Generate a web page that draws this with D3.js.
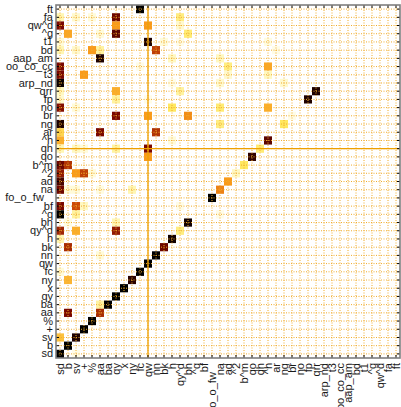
<!DOCTYPE html>
<html>
<head>
<meta charset="utf-8">
<script src="https://cdn.jsdelivr.net/npm/d3@7"></script>
<style>
    body { margin: 0; background: #fff; }
    svg text { font-family: "Liberation Sans", Arial, sans-serif; }
</style>
</head>
<body>
<div id="chart"></div>
<script>
// row categories, top to bottom (columns use the same list reversed)
const rowLabels = ['ft', 'fa', 'qw^d', '^g', 't1', 'bd', 'aap_am', 'oo_co_cc', 't3', 'arp_nd',
    'qrr', 'fp', 'no', 'br', 'ng', 'ar', '^h', 'qh', 'qo', 'b^m', '^2', 'ad', 'na', 'fo_o_fw   ',
    'bf', '^q', 'bh', 'qy^d', 'h', 'bk', 'nn', 'qw', 'fc', 'ny', 'x', 'qy', 'ba', 'aa', '%', '+',
    'sv', 'b', 'sd'];
const colLabels = rowLabels.slice().reverse();

// highlighted row / column (solid lines)
const markRow = 'qh';
const markCol = 'qw';

// [row, column, value 0..1]  -- cells not listed are 0
const cells = [
    ['ft', 'fc', 1.0],
    ['fa', 'sd', 0.12], ['fa', 'sv', 0.08], ['fa', '%', 0.06], ['fa', 'qy', 0.82], ['fa', 'qy^d', 0.2],
    ['qw^d', 'sd', 0.8], ['qw^d', 'qy', 0.45], ['qw^d', 'qw', 0.45], ['qw^d', 'qy^d', 0.08],
    ['^g', 'b', 0.42], ['^g', 'aa', 0.06], ['^g', 'qy', 0.85], ['^g', 'bh', 0.22],
    ['t1', 'sd', 0.06], ['t1', 'qw', 0.95], ['t1', 'bk', 0.06], ['t1', 'qy^d', 0.04], ['t1', '^h', 0.05],
    ['bd', 'sd', 0.12], ['bd', 'sv', 0.08], ['bd', '%', 0.45], ['bd', 'aa', 0.15], ['bd', 'nn', 0.65], ['bd', 'ar', 0.04],
    ['aap_am', 'aa', 0.95], ['aap_am', 'h', 0.1], ['aap_am', 'na', 0.1],
    ['oo_co_cc', 'sd', 0.8], ['oo_co_cc', 'fc', 0.04], ['oo_co_cc', 'ad', 0.2], ['oo_co_cc', '^h', 0.42],
    ['t3', 'sd', 0.8], ['t3', '+', 0.45], ['t3', 'ad', 0.08], ['t3', '^h', 0.1],
    ['arp_nd', 'sd', 0.98], ['arp_nd', 'h', 0.04], ['arp_nd', 'na', 0.08], ['arp_nd', 'ng', 0.08],
    ['qrr', 'sd', 0.1], ['qrr', 'qy', 0.4], ['qrr', 'qy^d', 0.15], ['qrr', 'qrr', 0.95],
    ['fp', 'sd', 0.08], ['fp', 'qy', 0.15], ['fp', 'qw', 0.04], ['fp', 'fp', 0.95],
    ['no', 'sd', 0.78], ['no', 'sv', 0.06], ['no', 'h', 0.25], ['no', 'na', 0.22], ['no', '^h', 0.4],
    ['br', 'qy', 0.8], ['br', 'qw', 0.45], ['br', 'bh', 0.48], ['br', 'br', 0.04],
    ['ng', 'sd', 0.95], ['ng', 'na', 0.2], ['ng', 'ng', 0.25],
    ['ar', 'sd', 0.3], ['ar', 'aa', 0.8], ['ar', 'nn', 0.68],
    ['^h', 'sd', 0.4], ['^h', 'h', 0.06], ['^h', '^h', 0.85],
    ['qh', 'sd', 0.12], ['qh', 'sv', 0.1], ['qh', '+', 0.06], ['qh', 'qy', 0.15], ['qh', 'qw', 0.8], ['qh', 'qh', 0.22],
    ['qo', 'qw', 0.45], ['qo', 'qo', 0.92],
    ['b^m', 'sd', 0.82], ['b^m', 'b', 0.68], ['b^m', 'b^m', 0.25],
    ['^2', 'sd', 0.75], ['^2', 'sv', 0.45], ['^2', '+', 0.65], ['^2', '%', 0.06], ['^2', '^2', 0.1],
    ['ad', 'sd', 0.88], ['ad', 'ad', 0.45],
    ['na', 'sd', 0.82], ['na', 'b', 0.06], ['na', 'sv', 0.06], ['na', 'aa', 0.05], ['na', 'ny', 0.12], ['na', 'na', 0.5],
    ['fo_o_fw   ', 'fo_o_fw   ', 1.0],
    ['bf', 'sd', 0.8], ['bf', 'sv', 0.62], ['bf', '+', 0.1], ['bf', 'qy^d', 0.04],
    ['^q', 'sd', 1.0], ['^q', 'sv', 0.15], ['^q', 'na', 0.04],
    ['bh', 'b', 0.05], ['bh', 'qy', 0.12], ['bh', 'bh', 0.97],
    ['qy^d', 'sd', 0.72], ['qy^d', 'sv', 0.4], ['qy^d', 'qy', 0.75], ['qy^d', 'qy^d', 0.2],
    ['h', 'sd', 0.12], ['h', 'h', 0.97],
    ['bk', 'b', 0.7], ['bk', 'bk', 0.82],
    ['nn', 'aa', 0.06], ['nn', 'nn', 1.0],
    ['qw', 'qw', 1.0],
    ['fc', 'sd', 0.06], ['fc', 'fc', 1.0],
    ['ny', 'b', 0.38], ['ny', 'ny', 0.93],
    ['x', 'x', 1.0],
    ['qy', 'qy', 1.0],
    ['ba', 'aa', 0.15], ['ba', 'ba', 1.0],
    ['aa', 'b', 0.8], ['aa', 'aa', 0.7],
    ['%', '%', 1.0],
    ['+', '+', 1.0],
    ['sv', 'sd', 0.35], ['sv', 'sv', 0.95],
    ['b', 'b', 1.0],
    ['sd', 'sd', 1.0], ['sd', 'sv', 0.04],
];

const width = 401, height = 407;
const margin = { left: 56, top: 5, right: 1, bottom: 49 };

const svg = d3.select('#chart').append('svg')
    .attr('width', width)
    .attr('height', height);

const x = d3.scaleBand().domain(colLabels).range([margin.left, width - margin.right]);
const y = d3.scaleBand().domain(rowLabels).range([margin.top, height - margin.bottom]);

const color = d3.scaleLinear()
    .domain([0, 0.1, 0.25, 0.45, 0.62, 0.8, 1])
    .range(['#ffffff', '#fff8c0', '#ffe860', '#f99a1a', '#cc4a08', '#7a0800', '#000000'])
    .clamp(true);

// --- cells
svg.append('g').attr('class', 'cells')
    .selectAll('rect')
    .data(cells)
    .join('rect')
    .attr('x', d => x(d[1]))
    .attr('y', d => y(d[0]))
    .attr('width', x.bandwidth())
    .attr('height', y.bandwidth())
    .attr('fill', d => color(d[2]));

// --- dotted grid at category centres
const grid = svg.append('g').attr('class', 'grid')
    .attr('stroke', '#f0ac2c')
    .attr('stroke-width', 1)
    .attr('stroke-dasharray', '1,1.5');
grid.selectAll('line.v').data(colLabels).join('line').attr('class', 'v')
    .attr('x1', d => x(d) + x.bandwidth() / 2).attr('x2', d => x(d) + x.bandwidth() / 2)
    .attr('y1', y.range()[0]).attr('y2', y.range()[1]);
grid.selectAll('line.h').data(rowLabels).join('line').attr('class', 'h')
    .attr('y1', d => y(d) + y.bandwidth() / 2).attr('y2', d => y(d) + y.bandwidth() / 2)
    .attr('x1', x.range()[0]).attr('x2', x.range()[1]);

// --- solid marker lines
svg.append('line')
    .attr('x1', x(markCol) + x.bandwidth() / 2).attr('x2', x(markCol) + x.bandwidth() / 2)
    .attr('y1', y.range()[0]).attr('y2', y.range()[1])
    .attr('stroke', '#eea000').attr('stroke-width', 1.3);
svg.append('line')
    .attr('y1', y(markRow) + y.bandwidth() / 2).attr('y2', y(markRow) + y.bandwidth() / 2)
    .attr('x1', x.range()[0]).attr('x2', x.range()[1])
    .attr('stroke', '#eea000').attr('stroke-width', 1.3);

// --- axes
const ax = svg.append('g').attr('class', 'axes');
const yAxis = d3.axisLeft(y).tickSizeInner(-3).tickSizeOuter(0).tickPadding(3);
ax.append('g')
    .attr('transform', `translate(${margin.left},0)`)
    .call(yAxis)
    .call(g => g.select('.domain').remove())
    .call(g => g.selectAll('.tick line').attr('stroke', '#000'))
    .call(g => g.selectAll('.tick text')
        .attr('font-size', 11)
        .attr('fill', '#1a1a1a')
        .style('white-space', 'pre'));

const xAxis = d3.axisBottom(x).tickSizeInner(-3).tickSizeOuter(0);
ax.append('g')
    .attr('transform', `translate(0,${height - margin.bottom})`)
    .call(xAxis)
    .call(g => g.select('.domain').remove())
    .call(g => g.selectAll('.tick line').attr('stroke', '#000'))
    .call(g => g.selectAll('.tick text')
        .attr('font-size', 11)
        .attr('fill', '#1a1a1a')
        .style('white-space', 'pre')
        .attr('transform', 'rotate(-90)')
        .attr('text-anchor', 'end')
        .attr('x', -5)
        .attr('y', 0)
        .attr('dy', '0.35em'));

ax.append('g')
    .attr('transform', `translate(0,${margin.top})`)
    .call(d3.axisTop(x).tickSizeInner(-3).tickSizeOuter(0).tickFormat(''))
    .call(g => g.select('.domain').remove());
ax.append('g')
    .attr('transform', `translate(${width - margin.right},0)`)
    .call(d3.axisRight(y).tickSizeInner(-3).tickSizeOuter(0).tickFormat(''))
    .call(g => g.select('.domain').remove());

// --- frame
svg.append('rect')
    .attr('x', x.range()[0])
    .attr('y', y.range()[0])
    .attr('width', x.range()[1] - x.range()[0])
    .attr('height', y.range()[1] - y.range()[0])
    .attr('fill', 'none')
    .attr('stroke', '#7f7f7f')
    .attr('stroke-width', 1.6);
</script>
</body>
</html>
